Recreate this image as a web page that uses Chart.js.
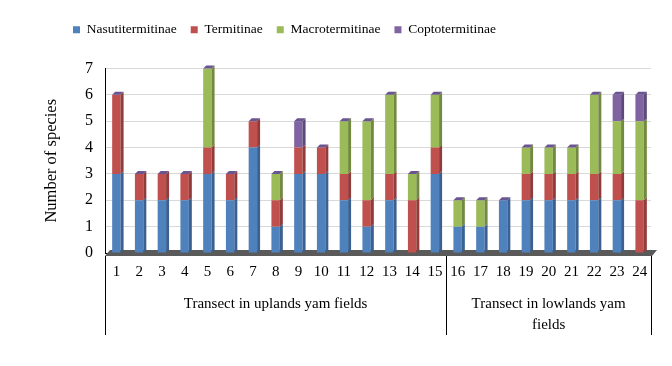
<!DOCTYPE html>
<html>
<head>
<meta charset="utf-8">
<script src="https://cdn.jsdelivr.net/npm/chart.js@4/dist/chart.umd.min.js"></script>
<style>
  html, body { margin: 0; padding: 0; background: #ffffff; }
  #wrap { width: 672px; height: 366px; position: relative; }
</style>
</head>
<body>
<div id="wrap"><canvas id="c" width="672" height="366"></canvas></div>
<script>
const transects = ['1','2','3','4','5','6','7','8','9','10','11','12','13','14','15','16','17','18','19','20','21','22','23','24'];
const nasutitermitinae = [3,2,2,2,3,2,4,1,3,3,2,1,2,0,3,1,1,2,2,2,2,2,2,0];
const termitinae       = [3,1,1,1,1,1,1,1,1,1,1,1,1,2,1,0,0,0,1,1,1,1,1,2];
const macrotermitinae  = [0,0,0,0,3,0,0,1,0,0,2,3,3,1,2,1,1,0,1,1,1,3,2,3];
const coptotermitinae  = [0,0,0,0,0,0,0,0,1,0,0,0,0,0,0,0,0,0,0,0,0,0,1,1];
const yTicks = [0,1,2,3,4,5,6,7];
const groups = [
  { label: ['Transect in uplands yam fields'], from: 0, to: 14 },
  { label: ['Transect in lowlands yam', 'fields'], from: 15, to: 23 }
];

const FONT = "'Liberation Serif', 'Times New Roman', serif";
const sideColors = ['#3a6191', '#913c3a', '#718a40', '#5d4a7b'];
const capColor = '#6a5590';

const bar3d = {
  id: 'bar3d',
  beforeDatasetsDraw(chart) {
    const ctx = chart.ctx;
    const a = chart.chartArea;
    const y0 = chart.scales.y.getPixelForValue(0);
    ctx.save();
    ctx.fillStyle = '#5a5a5a';
    ctx.beginPath();
    ctx.moveTo(a.left, y0 + 3);
    ctx.lineTo(a.left + 5, y0 - 3);
    ctx.lineTo(a.right + 6, y0 - 3);
    ctx.lineTo(a.right + 1, y0 + 3);
    ctx.closePath();
    ctx.fill();
    ctx.restore();
  },
  afterDatasetsDraw(chart) {
    const ctx = chart.ctx;
    const d = 3;
    const n = chart.data.labels.length;
    ctx.save();
    for (let i = 0; i < n; i++) {
      let topY = null, topX = null, topW = null;
      chart.data.datasets.forEach((ds, di) => {
        const el = chart.getDatasetMeta(di).data[i];
        if (!el) return;
        const w = el.width;
        const xr = el.x + w / 2;
        if (ds.data[i] > 0) {
          ctx.fillStyle = sideColors[di];
          ctx.beginPath();
          ctx.moveTo(xr, el.y);
          ctx.lineTo(xr + d, el.y - d);
          ctx.lineTo(xr + d, el.base - d);
          ctx.lineTo(xr, el.base);
          ctx.closePath();
          ctx.fill();
          if (topY === null || el.y < topY) { topY = el.y; topX = el.x; topW = w; }
        }
      });
      if (topY !== null) {
        ctx.fillStyle = capColor;
        ctx.beginPath();
        ctx.moveTo(topX - topW / 2, topY);
        ctx.lineTo(topX - topW / 2 + d, topY - d);
        ctx.lineTo(topX + topW / 2 + d, topY - d);
        ctx.lineTo(topX + topW / 2, topY);
        ctx.closePath();
        ctx.fill();
      }
    }
    ctx.restore();
  },
  afterDraw(chart) {
    const ctx = chart.ctx;
    const x = chart.scales.x;
    const yTop = chart.chartArea.bottom + 3;
    const yBot = 335;
    const half = (x.getPixelForValue(1) - x.getPixelForValue(0)) / 2;
    const divs = [x.left, (x.getPixelForValue(14) + x.getPixelForValue(15)) / 2, x.right];
    ctx.save();
    ctx.strokeStyle = '#000';
    ctx.lineWidth = 1;
    divs.forEach(px => {
      const xx = Math.round(px) + 0.5;
      ctx.beginPath();
      ctx.moveTo(xx, yTop);
      ctx.lineTo(xx, yBot);
      ctx.stroke();
    });
    ctx.fillStyle = '#000';
    ctx.font = '15px ' + FONT;
    ctx.textAlign = 'center';
    ctx.textBaseline = 'middle';
    groups.forEach(g => {
      const cx = (x.getPixelForValue(g.from) - half + x.getPixelForValue(g.to) + half) / 2;
      g.label.forEach((t, k) => ctx.fillText(t, cx, 304 + k * 21));
    });
    ctx.restore();
  }
};

const legendTweak = {
  id: 'legendTweak',
  beforeLayout(chart) {
    const lg = chart.legend;
    if (lg && !lg._tweaked) {
      const orig = lg.fit;
      lg.fit = function () { orig.call(this); this.height += 22; };
      lg._tweaked = true;
    }
  },
  afterLayout(chart) {
    const lg = chart.legend;
    lg.left += 17; lg.right += 17;
  }
};

new Chart(document.getElementById('c'), {
  type: 'bar',
  data: {
    labels: transects,
    datasets: [
      { label: 'Nasutitermitinae', data: nasutitermitinae, backgroundColor: '#4f81bd' },
      { label: 'Termitinae', data: termitinae, backgroundColor: '#c0504d' },
      { label: 'Macrotermitinae', data: macrotermitinae, backgroundColor: '#9bbb59' },
      { label: 'Coptotermitinae', data: coptotermitinae, backgroundColor: '#8064a2' }
    ]
  },
  options: {
    responsive: false,
    animation: false,
    devicePixelRatio: 1,
    layout: { padding: { top: 9, left: 42, right: 21, bottom: 0 } },
    datasets: { bar: { categoryPercentage: 1, barPercentage: 0.37, borderWidth: 0 } },
    plugins: {
      legend: {
        position: 'top',
        align: 'start',
        labels: { boxWidth: 7, boxHeight: 7, padding: 14, color: '#000', font: { family: FONT, size: 13.5 } }
      },
      tooltip: { enabled: false }
    },
    scales: {
      x: {
        stacked: true,
        grid: { display: false, drawTicks: false },
        border: { display: true, color: '#000' },
        ticks: { color: '#000', padding: 10, maxRotation: 0, autoSkip: false, font: { family: FONT, size: 15 } },
        afterFit(s) { s.height = 113; }
      },
      y: {
        stacked: true,
        min: 0, max: 7,
        afterBuildTicks(s) { s.ticks = yTicks.map(v => ({ value: v })); },
        grid: { color: '#d9d9d9', drawTicks: false },
        border: { display: true, color: '#000' },
        ticks: { color: '#000', padding: 12, font: { family: FONT, size: 16 } },
        title: { display: true, text: 'Number of species', color: '#000', font: { family: FONT, size: 16.5 }, padding: 0 },
        afterFit(s) { s.width = 63; }
      }
    }
  },
  plugins: [bar3d, legendTweak]
});
</script>
</body>
</html>
